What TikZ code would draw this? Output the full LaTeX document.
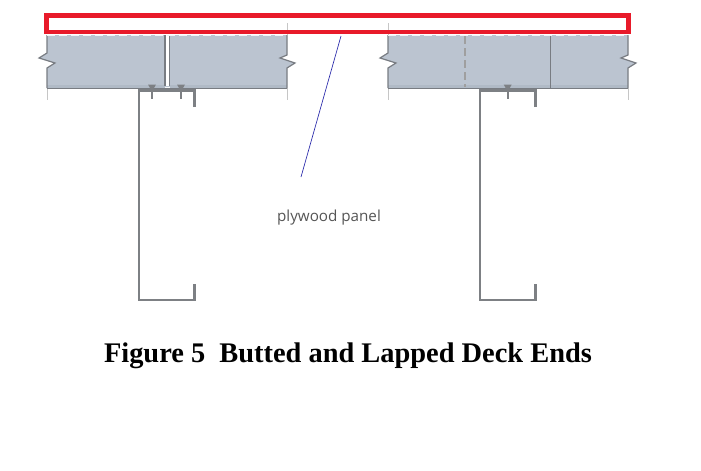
\documentclass[tikz,border=0pt]{standalone}
\usepackage{fontspec}
\setmainfont{Liberation Serif}
\newfontfamily\labelfont{Open Sans}
\definecolor{deck}{RGB}{187,196,208}
\definecolor{bandc}{RGB}{176,186,198}
\definecolor{steel}{RGB}{125,128,132}
\definecolor{rim}{RGB}{120,124,130}
\definecolor{redbar}{RGB}{232,26,42}
\definecolor{labelgray}{RGB}{85,85,85}
\definecolor{leader}{RGB}{40,40,170}
\tikzset{
  x=0.75pt,y=-0.75pt,
  panel/.style={fill=deck,draw=none},
  edge/.style={draw=rim,line width=0.9pt},
  faint/.style={draw=gray!45,line width=0.6pt},
  channel/.style={draw=steel,line width=1.8pt,line join=miter},
  screw/.style={draw=steel,line width=1.8pt},
  screwhead/.style={fill=steel,draw=none},
  band/.style={draw=rim,line width=1.2pt},
  ticks/.style={draw=white!80!deck,line width=0.7pt,dash pattern=on 6pt off 3pt},
}
\begin{document}
\begin{tikzpicture}
\useasboundingbox (0,0) rectangle (701,471);
% left deck
\fill[panel] (47,35) -- (287,35) -- (287,55) -- (280,58) -- (295,63) -- (287,68) -- (287,87) -- (47,87) -- (47,68) -- (55,63) -- (39,58) -- (47,53) -- cycle;
\fill[white] (165,30) rectangle (169.5,86);
\fill[bandc] (47,85) rectangle (165,88);
\fill[bandc] (169.5,85) rectangle (287,88);
\draw[faint] (47,88) -- (47,100);
\draw[faint] (287,23) -- (287,35);
\draw[faint] (287,88) -- (287,100);
\draw[edge] (47,35) -- (47,53) -- (39,58) -- (55,63) -- (47,68) -- (47,88);
\draw[edge] (287,35) -- (287,55) -- (280,58) -- (295,63) -- (287,68) -- (287,88);
\draw[edge] (165,35) -- (165,86);
\draw[edge] (169.5,35) -- (169.5,86);
\draw[band] (47,88.5) -- (287,88.5);
% right deck
\fill[panel] (388,35) -- (628,35) -- (628,55) -- (621,58) -- (636,63) -- (628,68) -- (628,87) -- (388,87) -- (388,68) -- (396,63) -- (380,58) -- (388,53) -- cycle;
\fill[bandc] (388,85) rectangle (628,88);
\draw[faint] (388,23) -- (388,35);
\draw[faint] (388,88) -- (388,100);
\draw[faint] (628,88) -- (628,100);
\draw[edge] (388,35) -- (388,53) -- (380,58) -- (396,63) -- (388,68) -- (388,88);
\draw[edge] (628,35) -- (628,55) -- (621,58) -- (636,63) -- (628,68) -- (628,88);
\draw[edge,draw=gray!75,line width=1pt,dash pattern=on 6pt off 3pt] (465,36) -- (465,87);
\draw[edge] (550.5,35) -- (550.5,88);
\draw[band] (388,88.5) -- (628,88.5);
% top dashes
\draw[ticks] (47,35.5) -- (287,35.5);
\draw[ticks] (388,35.5) -- (628,35.5);
% channels
\draw[channel] (194.5,107) -- (194.5,90.5) -- (139,90.5) -- (139,300) -- (194.5,300) -- (194.5,284);
\draw[channel] (535.5,107) -- (535.5,90.5) -- (480,90.5) -- (480,300) -- (535.5,300) -- (535.5,284);
% screws
\foreach \sx in {152,181}{
  \draw[screw] (\sx,85) -- (\sx,99);
  \fill[screwhead] (\sx-4,84.5) -- (\sx+4,84.5) -- (\sx+1.5,89) -- (\sx-1.5,89) -- cycle;
}
\draw[screw] (507.7,85) -- (507.7,99);
\fill[screwhead] (503.7,84.5) -- (511.7,84.5) -- (509.2,89) -- (506.2,89) -- cycle;
% red plywood bar
\node[draw=redbar,line width=3.6pt,minimum width=436.5pt,minimum height=12.4pt,inner sep=0pt,outer sep=0pt,anchor=north west] (bar) at (46.5,15.5) {};
% leader
\coordinate (leadA) at (341,36);
\coordinate (leadB) at (301,177);
\draw[leader,line width=0.5pt] (leadA) -- (leadB);
% labels
\node[text=labelgray,font=\labelfont\fontsize{11.4pt}{13pt}\selectfont,inner sep=0pt] (ply) at (329,217.5) {plywood panel};
\node[font=\bfseries\fontsize{21.3pt}{25pt}\selectfont,inner sep=0pt] (cap) at (348,356) {Figure 5\ \ Butted and Lapped Deck Ends};
\end{tikzpicture}
\end{document}
